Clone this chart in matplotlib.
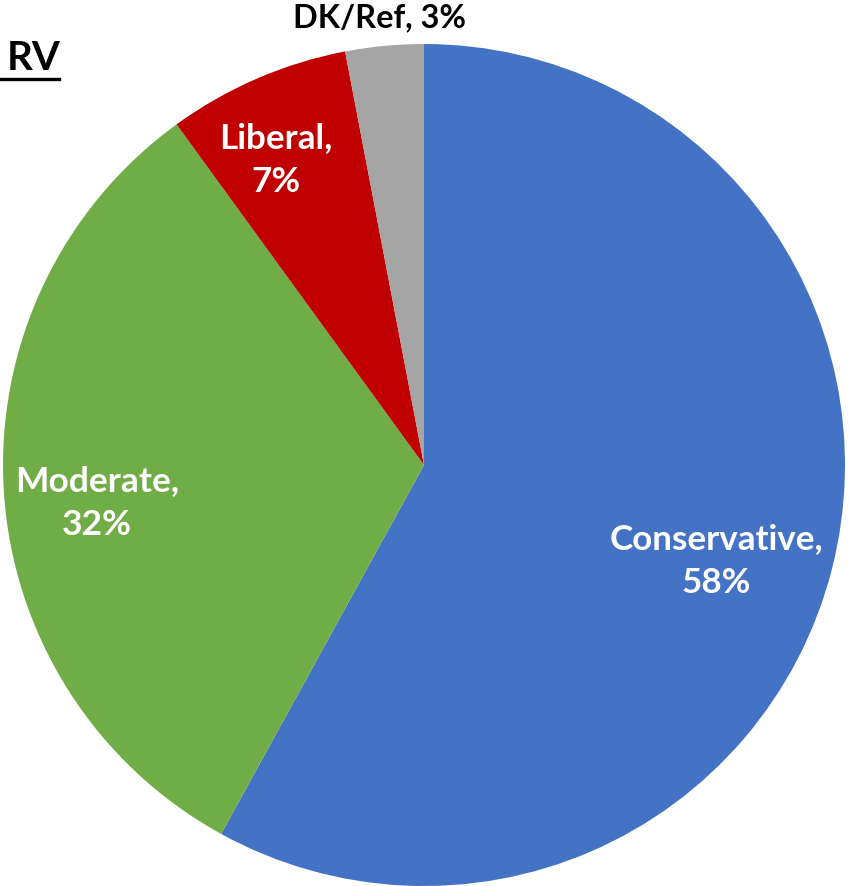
import matplotlib
matplotlib.use('Agg')
import matplotlib.pyplot as plt
import numpy as np

labels = ['Conservative', 'Moderate', 'Liberal', 'DK/Ref']
values = [58, 32, 7, 3]
colors = ['#4472C4', '#70AD47', '#C00000', '#A5A5A5']
text_colors = ['white', 'white', 'white', 'black']
# label positions (data units, pie radius = 1)
label_pos = [(0.694, -0.225), (-0.777, -0.088), (-0.352, 0.727), (-0.105, 1.064)]
label_sep = ['\n', '\n', '\n', ' ']
label_size = [25.2, 25.5, 25.2, 23.4]

plt.rcParams['font.family'] = ['Lato', 'DejaVu Sans']

W, H = 849, 887
fig = plt.figure(figsize=(W / 100, H / 100), dpi=100)
cx, cy, r = 424, 466, 421
ax = fig.add_axes([(cx - r) / W, (H - cy - r) / H, 2 * r / W, 2 * r / H])
ax.pie(values, colors=colors, startangle=90, counterclock=False, radius=1,
       wedgeprops=dict(linewidth=0))
ax.set_xlim(-1, 1)
ax.set_ylim(-1, 1)
ax.set_aspect('equal')
ax.axis('off')

for lab, v, (x, y), c, sep, fs in zip(labels, values, label_pos, text_colors,
                                      label_sep, label_size):
    ax.text(x, y, f'{lab},{sep}{v}%', ha='center', va='center', color=c,
            fontsize=fs, fontweight='bold', linespacing=1.45, clip_on=False)

fig.text(7 / W, 1 - 59 / H, 'RV', fontsize=29, fontweight='bold',
         ha='left', va='center')
fig.add_artist(plt.Line2D([0, 59 / W], [1 - 80 / H, 1 - 80 / H],
                          color='black', lw=2.4, transform=fig.transFigure))

fig.savefig('out.png', dpi=100, facecolor='white')
